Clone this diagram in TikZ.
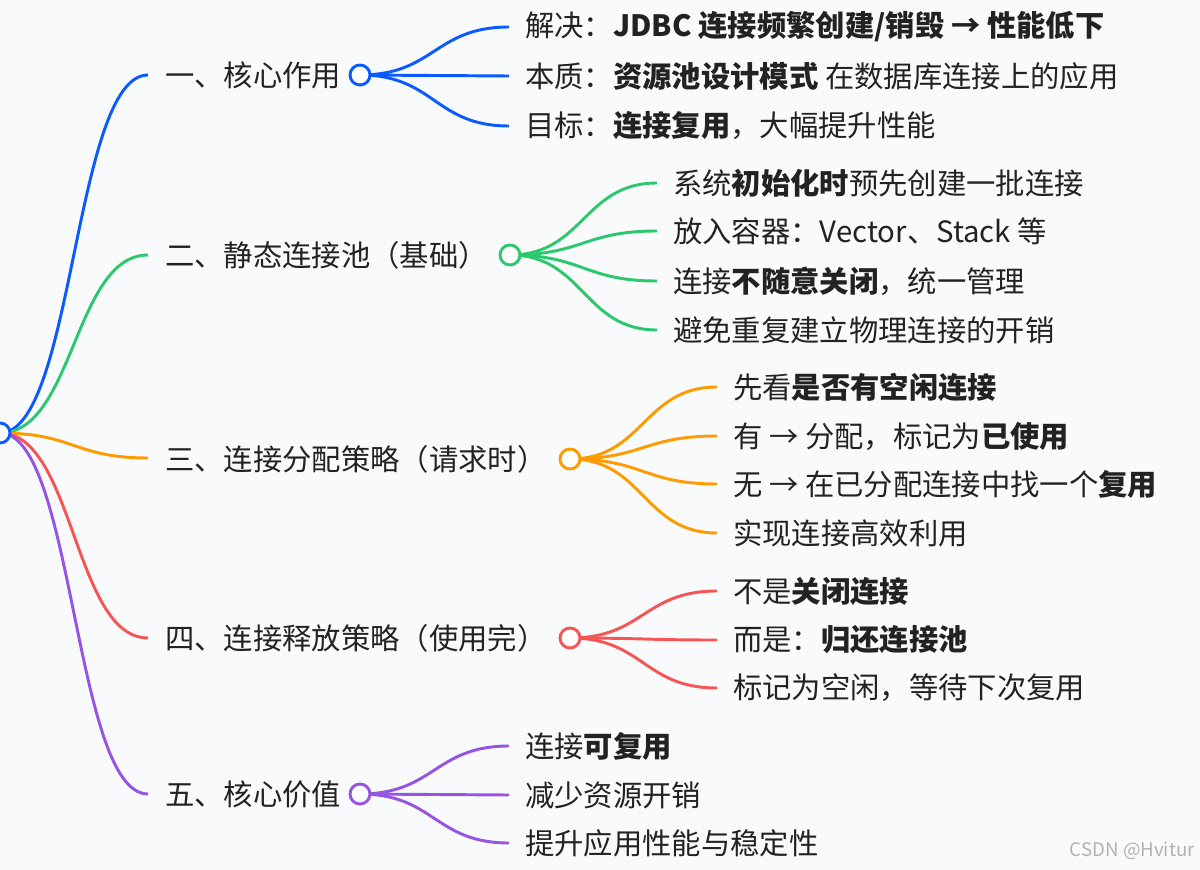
\documentclass[tikz,border=0pt]{standalone}
\usepackage{fontspec}
\setmainfont{Noto Sans CJK SC}
\usetikzlibrary{calc}
\definecolor{cblue}{RGB}{10,90,255}
\definecolor{cgreen}{RGB}{45,200,110}
\definecolor{corange}{RGB}{255,155,0}
\definecolor{cred}{RGB}{245,85,85}
\definecolor{cpurple}{RGB}{150,85,225}
\definecolor{bgc}{RGB}{248,250,252}
\definecolor{txt}{RGB}{34,34,34}
\tikzset{
  leaf/.style={anchor=west,inner sep=0pt,text=txt,font=\fontsize{22}{26}\selectfont},
  branch/.style={anchor=west,inner sep=0pt,text=txt,font=\fontsize{22}{26}\selectfont},
  dot/.style={circle,draw=#1,fill=white,line width=2.2pt,minimum size=15pt,inner sep=0pt},
  link/.style={draw=#1,line width=2.2pt}
}
\newcommand{\curve}[3]{\draw[link=#3] let \p1=(#1), \p2=(#2) in (\p1) .. controls ({(\x1+\x2)/2},\y1) and ({(\x1+\x2)/2},\y2) .. (\p2);}
\begin{document}
\begin{tikzpicture}[x=0.75pt,y=-0.75pt]
\fill[bgc] (0,0) rectangle (1200,870);
\useasboundingbox (0,0) rectangle (1200,870);
% branches
\node[branch] (t1) at (165,75) {一、核心作用};
\node[branch] (t2) at (165,255) {二、静态连接池（基础）};
\node[branch] (t3) at (165,459) {三、连接分配策略（请求时）};
\node[branch] (t4) at (165,638) {四、连接释放策略（使用完）};
\node[branch] (t5) at (165,794) {五、核心价值};
\coordinate (e1) at (148,75);
\coordinate (e2) at (148,255);
\coordinate (e3) at (148,458);
\coordinate (e4) at (148,638);
\coordinate (e5) at (148,794);
\coordinate (r) at (0,433);
\curve{r}{e1}{cblue}
\curve{r}{e2}{cgreen}
\curve{r}{e3}{corange}
\curve{r}{e4}{cred}
\curve{r}{e5}{cpurple}
\node[dot=cblue] (root) at (0,433) {};
% leaves
\node[leaf] (l11) at (525,27) {解决：\textbf{JDBC 连接频繁创建/销毁 → 性能低下}};
\node[leaf] (l12) at (525,76) {本质：\textbf{资源池设计模式} 在数据库连接上的应用};
\node[leaf] (l13) at (525,126) {目标：\textbf{连接复用}，大幅提升性能};
\node[leaf] (l21) at (673,183) {系统\textbf{初始化时}预先创建一批连接};
\node[leaf] (l22) at (673,231) {放入容器：Vector、Stack 等};
\node[leaf] (l23) at (673,281) {连接\textbf{不随意关闭}，统一管理};
\node[leaf] (l24) at (673,330) {避免重复建立物理连接的开销};
\node[leaf] (l31) at (733,387) {先看\textbf{是否有空闲连接}};
\node[leaf] (l32) at (733,436) {有 → 分配，标记为\textbf{已使用}};
\node[leaf] (l33) at (733,484) {无 → 在已分配连接中找一个\textbf{复用}};
\node[leaf] (l34) at (733,533) {实现连接高效利用};
\node[leaf] (l41) at (733,591) {不是\textbf{关闭连接}};
\node[leaf] (l42) at (733,640) {而是：\textbf{归还连接池}};
\node[leaf] (l43) at (733,688) {标记为空闲，等待下次复用};
\node[leaf] (l51) at (525,746) {连接\textbf{可复用}};
\node[leaf] (l52) at (525,795) {减少资源开销};
\node[leaf] (l53) at (525,843) {提升应用性能与稳定性};
% leaf edges
\foreach \i/\c in {11/cblue,12/cblue,13/cblue} {\curve{360,75}{$(l\i.west)+(-16,0)$}{\c}}
\foreach \i in {21,22,23,24} {\curve{510,255}{$(l\i.west)+(-16,0)$}{cgreen}}
\foreach \i in {31,32,33,34} {\curve{570,459}{$(l\i.west)+(-16,0)$}{corange}}
\foreach \i in {41,42,43} {\curve{570,638}{$(l\i.west)+(-16,0)$}{cred}}
\foreach \i in {51,52,53} {\curve{360,794}{$(l\i.west)+(-16,0)$}{cpurple}}
\node[dot=cblue] (b1) at (360,75) {};
\node[dot=cgreen] (b2) at (510,255) {};
\node[dot=corange] (b3) at (570,459) {};
\node[dot=cred] (b4) at (570,638) {};
\node[dot=cpurple] (b5) at (360,794) {};
\node[anchor=east,inner sep=0pt,text=gray!60,font=\fontsize{14}{16}\selectfont] (wm) at (1195,851) {CSDN @Hvitur};
\end{tikzpicture}
\end{document}
